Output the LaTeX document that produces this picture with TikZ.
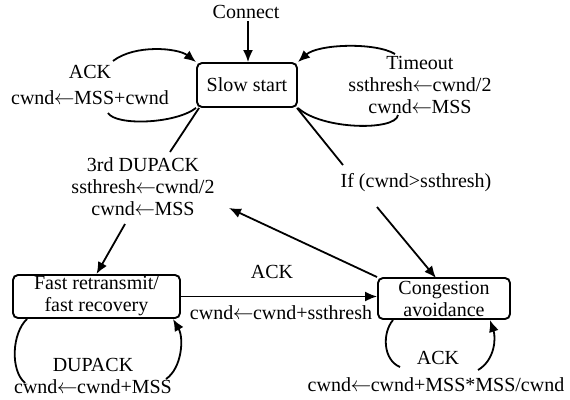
\documentclass[tikz,border=0pt]{standalone}
\usepackage{fontspec}
\setmainfont{Liberation Serif}
\usetikzlibrary{arrows.meta}
\newcommand{\la}{\kern-0.5pt$\leftarrow$\kern-0.5pt}
\begin{document}
\begin{tikzpicture}[x=1pt,y=-1pt,
  every node/.style={font=\fontsize{20}{22}\selectfont, inner sep=0pt, align=center},
  statebox/.style={draw, rounded corners=5pt, line width=1.9pt},
  conn/.style={line width=1.8pt},
  arr/.style={line width=1.8pt, -{Latex[length=12pt,width=10pt]}}]
\useasboundingbox (0,0) rectangle (570,399);
% states
\node[statebox, minimum width=100pt, minimum height=44pt] (ss) at (247,85) {Slow start};
\node[statebox, minimum width=167pt, minimum height=43pt] (fr) at (96.5,296.5) {Fast retransmit/\\fast recovery};
\node[statebox, minimum width=132pt, minimum height=41pt] (ca) at (444,298.5) {Congestion\\avoidance};
% labels
\node (connect) at (246,12) {Connect};
\node (ackA) at (90,72) {ACK};
\node (ackB) at (90,98) {cwnd\la MSS+cwnd};
\node (tmo) at (420,85) {Timeout\\ssthresh\la cwnd/2\\cwnd\la MSS};
\node (dup3) at (143,187) {3rd DUPACK\\ssthresh\la cwnd/2\\cwnd\la MSS};
\node (ifl) at (416,183) {If (cwnd>ssthresh)};
\node (ackC) at (272,272) {ACK};
\node (ackD) at (281,313) {cwnd\la cwnd+ssthresh};
\node (dup) at (93,376) {DUPACK\\cwnd\la cwnd+MSS};
\node (ackE) at (438,358) {ACK};
\node (ackF) at (436,385) {cwnd\la cwnd+MSS*MSS/cwnd};
% coordinates
\coordinate (a1) at (113,61);
\coordinate (a2) at (108,113);
\coordinate (t1) at (395,54);
\coordinate (t2) at (398,115);
\coordinate (d3in) at (170,152);
\coordinate (d3out) at (125,224);
\coordinate (d3r) at (229,208);
\coordinate (ifin) at (343,165);
\coordinate (ifout) at (377,207);
\coordinate (catop) at (436,278);
\coordinate (l1) at (27,319);
\coordinate (l2) at (25,383);
\coordinate (l3) at (166,379);
\coordinate (l4) at (173,319);
\coordinate (c1) at (393,320);
\coordinate (c2) at (400,367);
\coordinate (c3) at (478,370);
\coordinate (c4) at (490,320);
% connectors
\draw[arr] (connect.south) ++(2,2) -- ([xshift=1pt]ss.north);
\draw[arr] (a1) .. controls (135,44) and (178,48) .. (ss.north west);
\draw[conn] (a2) .. controls (116,126) and (175,124) .. (ss.south west);
\draw[arr] (t1) .. controls (375,42) and (318,44) .. (ss.north east);
\draw[conn] (t2) .. controls (396,131) and (322,130) .. (ss.south east);
\draw[conn] ([xshift=3pt]ss.south west) -- (d3in);
\draw[arr] (d3out) -- (fr.north);
\draw[conn] ([xshift=-1pt]ss.south east) -- (ifin);
\draw[arr] (ifout) -- (catop);
\draw[arr] (ca.north west) -- (d3r);
\draw[arr] (fr.east) -- (fr.east -| ca.west);
\draw[conn] (l1) .. controls (12,333) and (10,370) .. (l2);
\draw[arr] (l3) .. controls (182,368) and (184,338) .. (l4);
\draw[conn] (c1) .. controls (382,333) and (383,360) .. (c2);
\draw[arr] (c3) .. controls (495,360) and (496,338) .. (c4);
\end{tikzpicture}
\end{document}
